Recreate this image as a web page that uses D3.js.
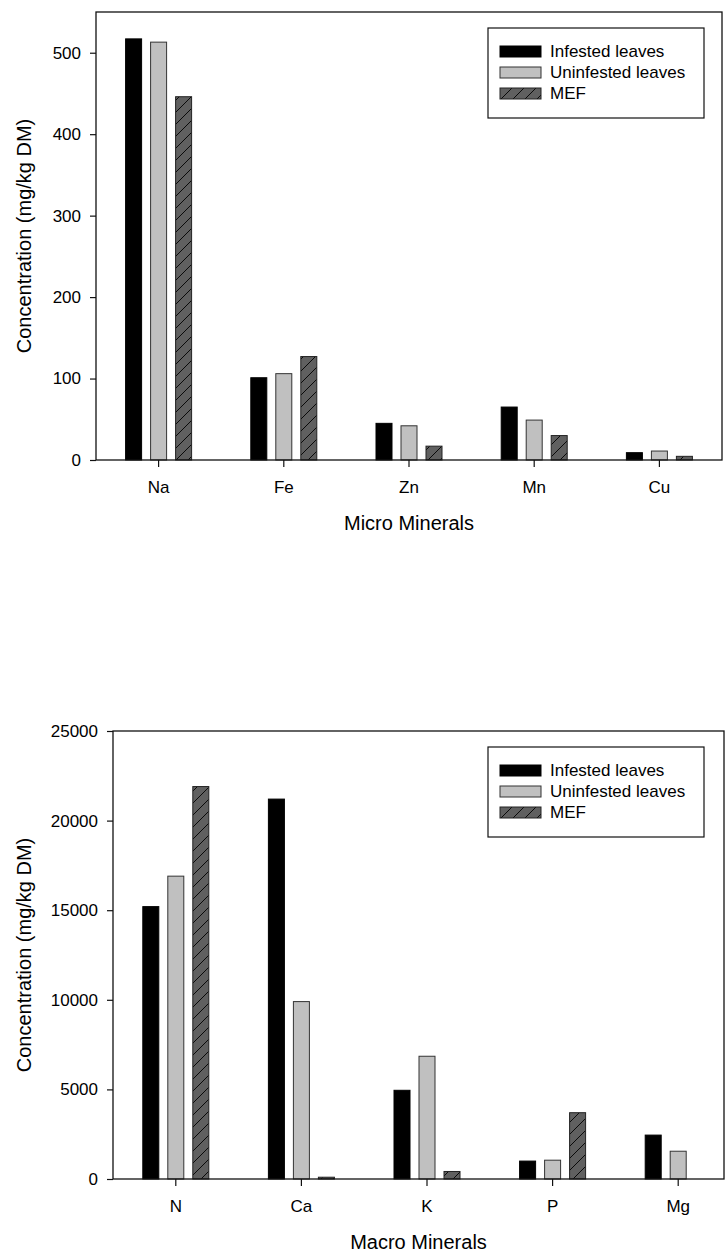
<!DOCTYPE html>
<html lang="en">
<head>
<meta charset="utf-8"/>
<title>Minerals</title>
<script src="https://d3js.org/d3.v7.min.js"></script>
<style>
  body { margin: 0; background: #fff; }
  svg text { font-family: "Liberation Sans", Arial, sans-serif; fill: #000; }
</style>
</head>
<body>
<svg id="chart" width="726" height="1253"></svg>

<script>
// ---- data ------------------------------------------------------------------
const series = ["Infested leaves", "Uninfested leaves", "MEF"]

const microCats = ["Na", "Fe", "Zn", "Mn", "Cu"]
const microInfested   = [517, 101, 45, 65, 9]
const microUninfested = [513, 106, 42, 49, 11]
const microMEF        = [446, 127, 17, 30, 4.5]
const microTicks = [0, 100, 200, 300, 400, 500]

const macroCats = ["N", "Ca", "K", "P", "Mg"]
const macroInfested   = [15200, 21200, 4950, 1000, 2450]
const macroUninfested = [16900, 9900, 6850, 1050, 1550]
const macroMEF        = [21900, 100, 420, 3700, 0]
const macroTicks = [0, 5000, 10000, 15000, 20000, 25000]

// -----------------------------------------------------------------------------
const svg = d3.select("#chart")

const defs = svg.append("defs")
defs.append("pattern").attr("id", "hatch")
    .attr("patternUnits", "userSpaceOnUse")
    .attr("width", 12).attr("height", 12)
  .call(p => {
    p.append("rect").attr("width", 12).attr("height", 12).attr("fill", "#606060")
    p.append("path").attr("d", "M-3,3 L3,-3 M0,12 L12,0 M9,15 L15,9")
     .attr("stroke", "#000").attr("stroke-width", 0.9)
  })

const fills = ["#000", "#c0c0c0", "url(#hatch)"]
const strokes = ["#000", "#333", "#222"]

function drawChart(o) {
  const g = svg.append("g")

  const x = d3.scaleBand().domain(o.cats).range([o.left, o.bandRight])
  const y = d3.scaleLinear().domain([0, o.max]).range([o.bottom, o.top])
  const xs = d3.scaleBand().domain(series)
               .range([-37.5, 37.5]).paddingInner(0.36).paddingOuter(0.18)

  const rows = o.cats.map((c, i) => ({ cat: c, vals: o.values.map(v => v[i]) }))

  // bars
  rows.forEach(r => {
    r.vals.forEach((v, j) => {
      if (!v) return
      g.append("rect")
        .attr("x", x(r.cat) + x.bandwidth() / 2 + xs(series[j]))
        .attr("y", y(v))
        .attr("width", xs.bandwidth())
        .attr("height", y(0) - y(v))
        .attr("fill", fills[j])
        .attr("stroke", strokes[j])
        .attr("stroke-width", 1)
    })
  })

  // frame
  g.append("rect")
    .attr("x", o.left).attr("y", o.top)
    .attr("width", o.right - o.left).attr("height", o.bottom - o.top)
    .attr("fill", "none").attr("stroke", "#111").attr("stroke-width", 1.3)

  // axes
  const ya = g.append("g").attr("transform", `translate(${o.left},0)`)
    .call(d3.axisLeft(y).tickValues(o.ticks).tickSize(6).tickPadding(9).tickFormat(d3.format("d")))
  const xa = g.append("g").attr("transform", `translate(0,${o.bottom})`)
    .call(d3.axisBottom(x).tickSize(7).tickPadding(14))
  ;[ya, xa].forEach(a => {
    a.select(".domain").remove()
    a.selectAll("line").attr("stroke", "#111").attr("stroke-width", 1.2)
    a.selectAll("text").style("font-size", "17px").style("font-family", '"Liberation Sans", Arial, sans-serif')
  })

  // axis titles
  g.append("text")
    .attr("x", (o.left + o.right) / 2).attr("y", o.bottom + 70)
    .attr("text-anchor", "middle").style("font-size", "20px")
    .text(o.xTitle)
  g.append("text")
    .attr("transform", `translate(31,${(o.top + o.bottom) / 2}) rotate(-90)`)
    .attr("text-anchor", "middle").style("font-size", "20px")
    .text("Concentration (mg/kg DM)")

  // legend
  const lg = g.append("g").attr("transform", `translate(488,${o.top + 16})`)
  lg.append("rect").attr("width", 216).attr("height", 90)
    .attr("fill", "#fff").attr("stroke", "#111").attr("stroke-width", 1.2)
  series.forEach((s, j) => {
    lg.append("rect").attr("x", 12).attr("y", 18 + j * 21).attr("width", 41).attr("height", 11)
      .attr("fill", fills[j]).attr("stroke", strokes[j]).attr("stroke-width", 1)
    lg.append("text").attr("x", 62).attr("y", 29 + j * 21)
      .style("font-size", "17px").text(s)
  })
}

drawChart({
  cats: microCats, values: [microInfested, microUninfested, microMEF],
  ticks: microTicks, max: 550,
  left: 96, right: 722, bandRight: 722, top: 12, bottom: 460,
  xTitle: "Micro Minerals"
})

drawChart({
  cats: macroCats, values: [macroInfested, macroUninfested, macroMEF],
  ticks: macroTicks, max: 25000,
  left: 113, right: 724, bandRight: 741, top: 731, bottom: 1179,
  xTitle: "Macro Minerals"
})
</script>
</body>
</html>
